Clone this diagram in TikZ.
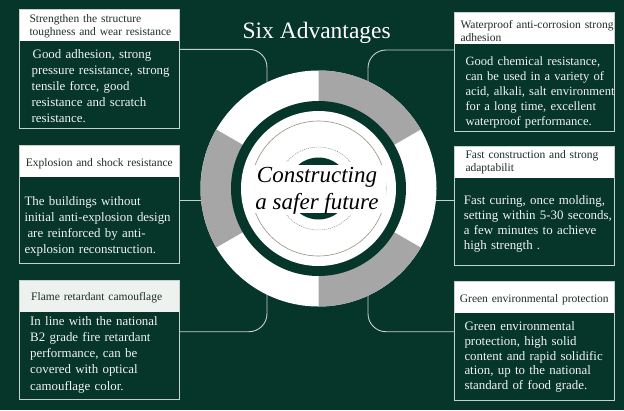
\documentclass[tikz,border=0pt]{standalone}
\usepackage{fontspec}
\setmainfont{Liberation Serif}
\usetikzlibrary{calc}
\definecolor{bg}{HTML}{06352A}
\definecolor{segray}{HTML}{A6A6A6}
\definecolor{linec}{HTML}{C8D0CB}
\definecolor{hdrtext}{HTML}{1E2E26}
\definecolor{hdrfill2}{HTML}{EEF2EF}
\definecolor{thinc}{HTML}{9A9080}
\definecolor{bodytext}{HTML}{F2F4F2}
\begin{document}
\begin{tikzpicture}[x=1pt,y=1pt,
  frame/.style={draw=linec, line width=0.9pt, inner sep=0pt, anchor=north west, minimum width=160pt},
  hdr/.style={fill=white, inner sep=0pt, anchor=north west, minimum width=160pt},
  htext/.style={font=\fontsize{11.5}{13}\selectfont, text=hdrtext, text width=170pt, align=left, anchor=base west, inner sep=0pt},
  btext/.style={text=bodytext, text width=170pt, align=left, anchor=base west, inner sep=0pt},
  conn/.style={draw=linec, line width=0.9pt, rounded corners=18pt}
]
\useasboundingbox (0,0) rectangle (624,-410);
\fill[bg] (0,0) rectangle (624,-410);

% ---------- boxes ----------
\node[hdr, minimum height=32pt] (h1) at (19,-9) {};
\node[frame, minimum height=118.7pt] (b1) at (19,-9) {};
\node[htext] (t1) at (29.3,-22.5) {Strengthen the structure\\toughness and wear resistance};
\node[btext, font=\fontsize{12.9}{16}\selectfont] (x1) at (31.5,-58.5) {\hspace*{1pt}Good adhesion, strong\\pressure resistance, strong\\tensile force, good\\resistance and scratch\\resistance.};

\node[hdr, minimum height=31.7pt] (h2) at (19,-145) {};
\node[frame, minimum height=118.3pt] (b2) at (19,-145) {};
\node[htext] (t2) at (25.7,-166.5) {Explosion and shock resistance};
\node[btext, font=\fontsize{12.9}{16.3}\selectfont] (x2) at (24.3,-205) {The buildings without\\initial anti-explosion design\\\hspace*{3pt}are reinforced by anti-\\explosion reconstruction.};

\node[hdr, fill=hdrfill2, minimum height=31.7pt] (h3) at (19,-280) {};
\node[frame, minimum height=119.3pt] (b3) at (19,-280) {};
\node[htext] (t3) at (31,-300) {Flame retardant camouflage};
\node[btext, font=\fontsize{12.9}{16.3}\selectfont] (x3) at (30,-325) {In line with the national\\B2 grade fire retardant\\performance, can be\\covered with optical\\camouflage color.};

\node[hdr, minimum height=31.2pt] (h4) at (454.3,-12.3) {};
\node[frame, minimum height=118.7pt] (b4) at (454.3,-12.3) {};
\node[htext, font=\fontsize{11.5}{13.3}\selectfont] (t4) at (460.3,-28) {Waterproof anti-corrosion strong\\adhesion};
\node[btext, font=\fontsize{12.6}{15.1}\selectfont] (x4) at (465.3,-65.5) {Good chemical resistance,\\can be used in a variety of\\acid, alkali, salt environment\\for a long time, excellent\\waterproof performance.};

\node[hdr, minimum height=32.3pt] (h5) at (454.3,-145.7) {};
\node[frame, minimum height=119.3pt] (b5) at (454.3,-145.7) {};
\node[htext, font=\fontsize{11.5}{12.7}\selectfont] (t5) at (465.3,-158.5) {Fast construction and strong\\adaptabilit};
\node[btext, font=\fontsize{12.9}{15}\selectfont] (x5) at (463.7,-204) {Fast curing, once molding,\\setting within 5-30 seconds,\\a few minutes to achieve\\high strength .};

\node[hdr, minimum height=31.3pt] (h6) at (454.3,-281) {};
\node[frame, minimum height=119pt] (b6) at (454.3,-281) {};
\node[htext] (t6) at (459.7,-302.5) {Green environmental protection};
\node[btext, font=\fontsize{12.9}{14.8}\selectfont] (x6) at (464.3,-330.5) {Green environmental\\protection, high solid\\content and rapid solidific\\ation, up to the national\\standard of food grade.};

% ---------- title ----------
\node[font=\fontsize{23.5}{28}\selectfont, text=white, anchor=base, inner sep=0pt] (title) at (316.7,-38.3) {Six Advantages};

% ---------- connectors ----------
\coordinate (e1) at (267,-100);
\coordinate (e2) at (215,-200);
\coordinate (e3) at (267,-280);
\coordinate (e4) at (368,-100);
\coordinate (e5) at (420,-200);
\coordinate (e6) at (368,-280);
\draw[conn] (b1.east |- 0,-49.3) -| (e1);
\draw[conn] (b2.east |- 0,-200) -- (e2);
\draw[conn] (b3.east |- 0,-331.7) -| (e3);
\draw[conn] (b4.west |- 0,-50) -| (e4);
\draw[conn] (b5.west |- 0,-200) -- (e5);
\draw[conn] (b6.west |- 0,-331.7) -| (e6);

% ---------- ring ----------
\coordinate (C) at (318.5,-188.5);
\fill[white] (C) circle (118);
\fill[segray] (C) -- ++(30:118) arc (30:90:118) -- cycle;
\fill[segray] (C) -- ++(150:118) arc (150:210:118) -- cycle;
\fill[segray] (C) -- ++(270:118) arc (270:330:118) -- cycle;
\fill[bg] (C) circle (87.5);
\fill[white] (C) circle (77.5);
\draw[thinc, line width=0.6pt] (C) circle (67.5);
\fill[bg] (C) circle (31);
\draw[gray, line width=0.5pt, dash pattern=on 1pt off 1pt] ($(C)+(40:41.5)$) arc (40:140:41.5);
\draw[gray, line width=0.5pt, dash pattern=on 1pt off 1pt] ($(C)+(220:41.5)$) arc (220:320:41.5);
\fill[white] (250,-165) rectangle (386,-213);
\node[font=\fontsize{23}{27}\selectfont\itshape, text=black, align=center, inner sep=0pt] (ctext) at (317,-190.5) {Constructing\\a safer future};
\end{tikzpicture}
\end{document}
